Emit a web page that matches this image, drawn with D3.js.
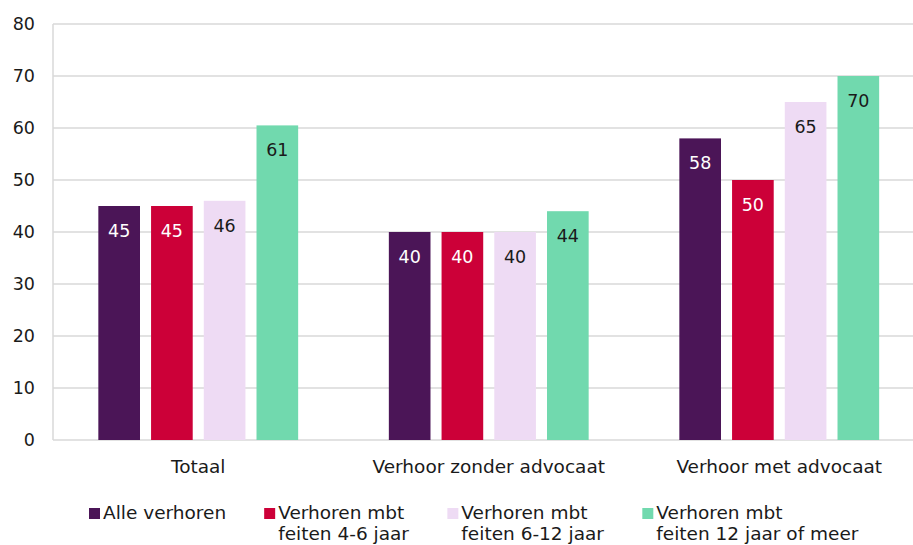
<!DOCTYPE html>
<html>
<head>
<meta charset="utf-8">
<script src="https://cdn.jsdelivr.net/npm/d3@7"></script>
<style>
  html, body { margin: 0; padding: 0; background: #fff; overflow: hidden; }
  svg { display: block; }
  text { font-family: Verdana, "DejaVu Sans", sans-serif; fill: #1a1a1a; }
</style>
</head>
<body>
<svg id="chart"></svg>
<script>
// categories and series
const categories = ["Totaal", "Verhoor zonder advocaat", "Verhoor met advocaat"];
const seriesNames = [
  ["Alle verhoren"],
  ["Verhoren mbt", "feiten 4-6 jaar"],
  ["Verhoren mbt", "feiten 6-12 jaar"],
  ["Verhoren mbt", "feiten 12 jaar of meer"]
];
const alleVerhoren = [45, 40, 58];
const feiten4tot6 = [45, 40, 50];
const feiten6tot12 = [46, 40, 65];
const feiten12plus = [60.5, 44, 70];
const yTicks = [0, 10, 20, 30, 40, 50, 60, 70, 80];

const colors = ["#4b1557", "#cc0038", "#eedbf4", "#71d9ae"];
const labelColors = ["#ffffff", "#ffffff", "#1a1a1a", "#1a1a1a"];
const seriesValues = [alleVerhoren, feiten4tot6, feiten6tot12, feiten12plus];

const width = 913, height = 545;
const margin = { top: 24, left: 53, bottom: 105 };
const plotRight = 924.5; // plot area runs slightly past the right edge
const innerHeight = height - margin.top - margin.bottom;

const svg = d3.select("#chart")
    .attr("width", width)
    .attr("height", height);

const x0 = d3.scaleBand()
    .domain(categories)
    .range([margin.left, plotRight])
    .padding(0);

const x1 = d3.scaleBand()
    .domain(d3.range(4))
    .range([0, x0.bandwidth()])
    .paddingInner(0.21)
    .paddingOuter(0.86);

const y = d3.scaleLinear()
    .domain([0, 80])
    .range([margin.top + innerHeight, margin.top]);

// gridlines
svg.append("g")
    .selectAll("line")
    .data(yTicks)
    .enter().append("line")
    .attr("x1", margin.left)
    .attr("x2", width)
    .attr("y1", d => y(d))
    .attr("y2", d => y(d))
    .attr("stroke", "#d9d9d9")
    .attr("stroke-width", 1.5);

// left axis line
svg.append("line")
    .attr("x1", margin.left).attr("x2", margin.left)
    .attr("y1", y(80)).attr("y2", y(0))
    .attr("stroke", "#d9d9d9")
    .attr("stroke-width", 1.5);

// y tick labels
svg.append("g")
    .selectAll("text")
    .data(yTicks)
    .enter().append("text")
    .attr("x", 35)
    .attr("y", d => y(d) + 6)
    .attr("text-anchor", "end")
    .style("font-size", "17.5px")
    .text(d => d);

// bars
const groups = svg.append("g")
    .selectAll("g")
    .data(categories)
    .enter().append("g")
    .attr("transform", d => `translate(${x0(d)},0)`);

groups.selectAll("rect")
    .data((c, i) => seriesValues.map((s, k) => ({ k: k, v: s[i] })))
    .enter().append("rect")
    .attr("x", d => x1(d.k))
    .attr("y", d => y(d.v))
    .attr("width", x1.bandwidth())
    .attr("height", d => y(0) - y(d.v))
    .attr("fill", d => colors[d.k]);

groups.selectAll("text")
    .data((c, i) => seriesValues.map((s, k) => ({ k: k, v: s[i] })))
    .enter().append("text")
    .attr("x", d => x1(d.k) + x1.bandwidth() / 2)
    .attr("y", d => y(d.v) + 31)
    .attr("text-anchor", "middle")
    .style("font-size", "17.5px")
    .style("fill", d => labelColors[d.k])
    .text(d => Math.round(d.v));

// category labels
svg.append("g")
    .selectAll("text")
    .data(categories)
    .enter().append("text")
    .attr("x", d => x0(d) + x0.bandwidth() / 2)
    .attr("y", 473)
    .attr("text-anchor", "middle")
    .style("font-size", "18.5px")
    .text(d => d);

// legend
const legend = svg.append("g").attr("transform", "translate(89,0)");
let lx = 0;
seriesNames.forEach((lines, k) => {
  const item = legend.append("g").attr("transform", `translate(${lx},0)`);
  item.append("rect")
      .attr("x", 0).attr("y", 508)
      .attr("width", 11).attr("height", 11)
      .attr("fill", colors[k]);
  const t = item.append("text")
      .attr("x", 14)
      .attr("y", 519)
      .style("font-size", "18.5px");
  lines.forEach((ln, j) => {
    t.append("tspan").attr("x", 14).attr("y", 519 + j * 21).text(ln);
  });
  const w = t.node().getBBox().width;
  lx += 14 + w + 38;
});
</script>
</body>
</html>
